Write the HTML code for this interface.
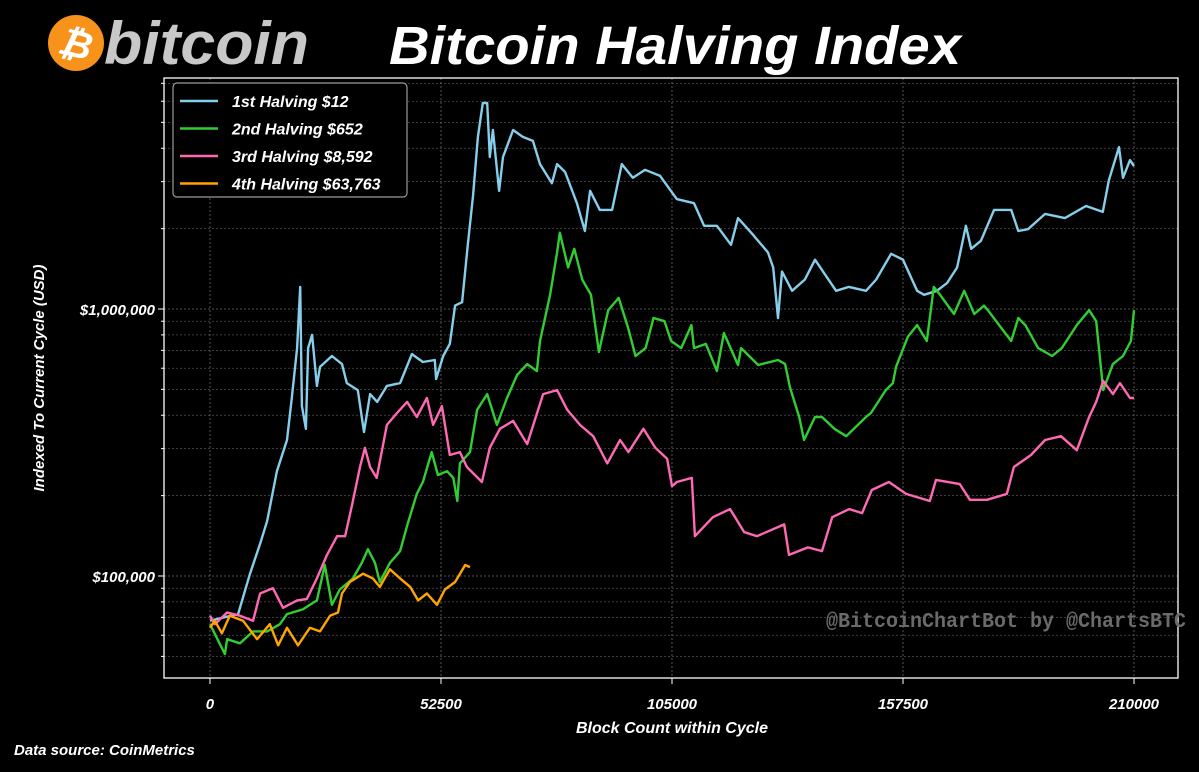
<!DOCTYPE html>
<html><head><meta charset="utf-8">
<style>
html,body{margin:0;padding:0;background:#000;}
svg{display:block;}
text{font-family:"Liberation Sans",sans-serif;font-style:italic;font-weight:bold;fill:#fff;}
</style></head>
<body>
<svg id="chart" width="1199" height="772" viewBox="0 0 1199 772">
<rect x="0" y="0" width="1199" height="772" fill="#000"/>
<g>
<circle cx="76" cy="43" r="28" fill="#f7931a"/>
<text x="76" y="57" font-size="38" text-anchor="middle" style="font-style:italic" transform="rotate(14 76 43)">₿</text>
<text x="104" y="64" font-size="60" fill="#c8c8c8" style="fill:#c8c8c8" textLength="205" lengthAdjust="spacingAndGlyphs">bitcoin</text>
</g>
<text x="675" y="64" font-size="54" text-anchor="middle" textLength="572" lengthAdjust="spacingAndGlyphs">Bitcoin Halving Index</text>
<g id="grid"></g>
<g id="plot"></g>
<g id="axes"></g>
<text x="44" y="378" font-size="15" text-anchor="middle" transform="rotate(-90 44 378)">Indexed To Current Cycle (USD)</text>
<text x="672" y="733" font-size="16" text-anchor="middle">Block Count within Cycle</text>
<text x="14" y="755" font-size="15">Data source: CoinMetrics</text>
<text x="826" y="627" font-size="21" style="font-family:'Liberation Mono',monospace;font-style:normal;fill:#6a6a6a" textLength="360" lengthAdjust="spacingAndGlyphs">@BitcoinChartBot by @ChartsBTC</text>
<g id="legend"></g>
</svg>
<script>
const seriesNames = ["1st Halving $12","2nd Halving $652","3rd Halving $8,592","4th Halving $63,763"];
const seriesColors = ["#87ceeb","#32cd32","#ff69b4","#ffa500"];
const xTicks = [0,52500,105000,157500,210000];
const xTickLabels = ["0","52500","105000","157500","210000"];
const yTicks = [100000,1000000];
const yTickLabels = ["$100,000","$1,000,000"];
// blocks and prices (in $k)
const blocks1 = [0,6400,9100,11400,13000,15200,17500,18600,19800,20500,20900,21800,22300,23200,24300,25000,27700,30000,31100,33600,35000,36400,38000,40200,43200,45900,48400,51100,51400,53000,54500,55700,57300,58600,59800,60900,62000,63000,63600,64300,65700,66600,68900,71100,73400,75000,77700,78900,80700,83400,85200,86400,88600,91400,93600,96100,98900,102300,106100,110000,112300,115200,118400,120000,123000,126800,128000,129100,130000,132300,135200,137500,142300,145200,149100,151400,154800,157500,160700,162300,165200,167500,169800,171800,173000,175200,178200,182100,183700,185900,189800,194300,199100,202900,204300,206600,207500,209100,210000];
const prices1 = [68,72,102,132,161,247,323,464,714,1210,433,356,714,800,515,607,667,622,528,497,346,480,449,515,528,678,633,644,547,667,740,1030,1060,1740,2670,4410,5910,5910,3710,4680,2770,3710,4680,4410,4260,3490,2960,3490,3260,2490,1960,2770,2350,2350,3490,3100,3320,3150,2580,2490,2050,2050,1740,2190,1930,1630,1430,925,1380,1170,1290,1530,1170,1210,1170,1290,1610,1530,1170,1130,1170,1250,1430,2050,1680,1800,2350,2350,1960,1990,2270,2190,2430,2310,3040,4040,3100,3610,3430];
const blocks2 = [0,3400,3900,6800,9800,13000,15900,17500,21100,24300,26100,27700,29500,32500,34500,35900,37500,38600,40900,43200,44900,47000,48400,50400,51800,53900,55300,56200,56800,59100,60700,63000,65200,67500,69800,72100,74300,75000,77300,78900,79500,81400,82800,84600,86600,88400,90500,92900,95100,96700,99000,100800,103300,104800,107100,109400,110000,112700,115200,116800,120000,120700,124600,129100,130700,131800,133900,135000,137500,139100,141900,144600,149100,150200,153600,155200,155900,158600,160700,162900,164500,165900,169100,171400,173700,175900,176800,180700,182100,183700,185300,188200,191400,193600,197000,199800,201400,203000,205200,207500,209300,210000];
const prices2 = [66,51,58,56,62,62,66,72,75,81,110,78,89,98,112,126,112,95,112,124,156,203,225,291,239,247,233,191,264,291,419,480,368,464,566,622,586,759,1130,1630,1930,1430,1680,1290,1130,690,990,1100,842,667,714,925,900,759,714,870,714,740,586,813,617,714,617,644,622,510,394,323,394,394,356,334,394,408,497,528,607,786,870,759,1210,1130,958,1170,958,1030,990,813,759,925,870,714,667,714,870,990,900,497,622,667,759,990,870];
const blocks3 = [0,1100,3900,6800,9800,11400,14300,16600,19800,22000,24300,26600,28900,30700,32300,34100,35200,36400,37900,40200,42500,44800,47000,49300,50700,52700,54500,56800,58400,61800,63600,65900,68900,72100,75700,78900,81200,84100,87100,90300,93200,95100,98500,101200,103900,105000,106100,109500,110200,114300,118200,121400,124300,130500,131600,135900,139100,141400,145300,148200,150400,154300,158200,163600,165000,170400,172700,176600,181100,182700,186600,189800,193400,197000,199800,201400,203000,205200,206800,209100,210000];
const prices3 = [71,66,73,71,68,86,90,76,81,82,98,120,141,141,185,256,302,256,233,368,408,449,394,464,368,433,284,291,256,225,302,356,381,312,480,497,419,368,334,264,323,291,356,302,275,217,225,233,141,166,178,146,141,156,120,128,124,166,178,172,210,225,203,191,229,221,193,193,203,256,284,323,334,296,394,449,538,480,528,464,464];
const blocks4 = [0,1100,2700,4500,7500,10700,13600,15500,17500,20000,22700,25000,27300,29100,30000,31800,34800,37000,38600,40900,43200,45500,47300,49300,51600,53400,55700,58000,59100];
const prices4 = [64,68,61,71,68,58,66,55,64,55,64,62,71,73,86,95,102,98,91,106,98,91,81,86,78,89,95,110,108];

const allBlocks = [blocks1,blocks2,blocks3,blocks4];
const allPrices = [prices1,prices2,prices3,prices4];

const NS = "http://www.w3.org/2000/svg";
const L = 164, R = 1178, T = 78, B = 678;
const xMin = -10450, xMax = 220000;
const yMinLog = Math.log10(41500), yMaxLog = Math.log10(7330000);
function xScale(v){ return L + (v - xMin) / (xMax - xMin) * (R - L); }
function yScale(v){ return B - (Math.log10(v) - yMinLog) / (yMaxLog - yMinLog) * (B - T); }
function mk(tag, attrs, parent){
  const e = document.createElementNS(NS, tag);
  for (const k in attrs) e.setAttribute(k, attrs[k]);
  parent.appendChild(e);
  return e;
}
const grid = document.getElementById('grid');
const plot = document.getElementById('plot');
const axes = document.getElementById('axes');
const legend = document.getElementById('legend');

// minor + major y gridlines
for (let p = 4; p <= 6; p++) {
  for (let m = 1; m <= 9; m++) {
    const v = m * Math.pow(10, p);
    if (v < 41500 || v > 7330000) continue;
    const y = yScale(v);
    const gl = mk('line', {x1:L, x2:R, y1:y, y2:y, stroke: m===1 ? '#6a6a6a' : '#505050', 'stroke-width':0.8, 'stroke-dasharray':'2,2'}, grid);
    
    
    const tk = mk('line', {x1:L-(m===1?6:3), x2:L, y1:y, y2:y, stroke:'#fff', 'stroke-width':1}, axes);
    
    
  }
}
xTicks.forEach((t, i) => {
  const x = xScale(t);
  const gl = mk('line', {x1:x, x2:x, y1:T, y2:B, stroke:'#6a6a6a', 'stroke-width':0.8, 'stroke-dasharray':'2,2'}, grid);
  
  
  const tk = mk('line', {x1:x, x2:x, y1:B, y2:B+6, stroke:'#fff', 'stroke-width':1}, axes);
  
  
  const lb = mk('text', {x:x, y:B+31, 'font-size':15, 'text-anchor':'middle'}, axes);
  lb.textContent = xTickLabels[i];
  
  
});
yTicks.forEach((t, i) => {
  const y = yScale(t);
  const lb = mk('text', {x:L-9, y:y+6, 'font-size':15, 'text-anchor':'end'}, axes);
  lb.textContent = yTickLabels[i];
  
  
});
const frame = mk('rect', {x:L, y:T, width:R-L, height:B-T, fill:'none', stroke:'#fff', 'stroke-width':1.3}, axes);



allBlocks.forEach((bl, s) => {
  const pr = allPrices[s];
  const d = bl.map((b, i) => (i ? 'L' : 'M') + xScale(b).toFixed(1) + ',' + yScale(pr[i] * 1000).toFixed(1)).join(' ');
  const p = mk('path', {d:d, fill:'none', stroke:seriesColors[s], 'stroke-width':2.4, 'stroke-linejoin':'round'}, plot);
  
  
});

const box = mk('rect', {x:173, y:83, width:234, height:114, rx:4, fill:'#000', stroke:'#9a9a9a', 'stroke-width':1.2}, legend);


seriesNames.forEach((n, i) => {
  const y = 101 + i * 27.5;
  const g = mk('g', {}, legend);
  
  
  mk('line', {x1:180, x2:218, y1:y, y2:y, stroke:seriesColors[i], 'stroke-width':2.5}, g);
  const t = mk('text', {x:232, y:y+6, 'font-size':16}, g);
  t.textContent = n;
});
</script>
</body></html>
